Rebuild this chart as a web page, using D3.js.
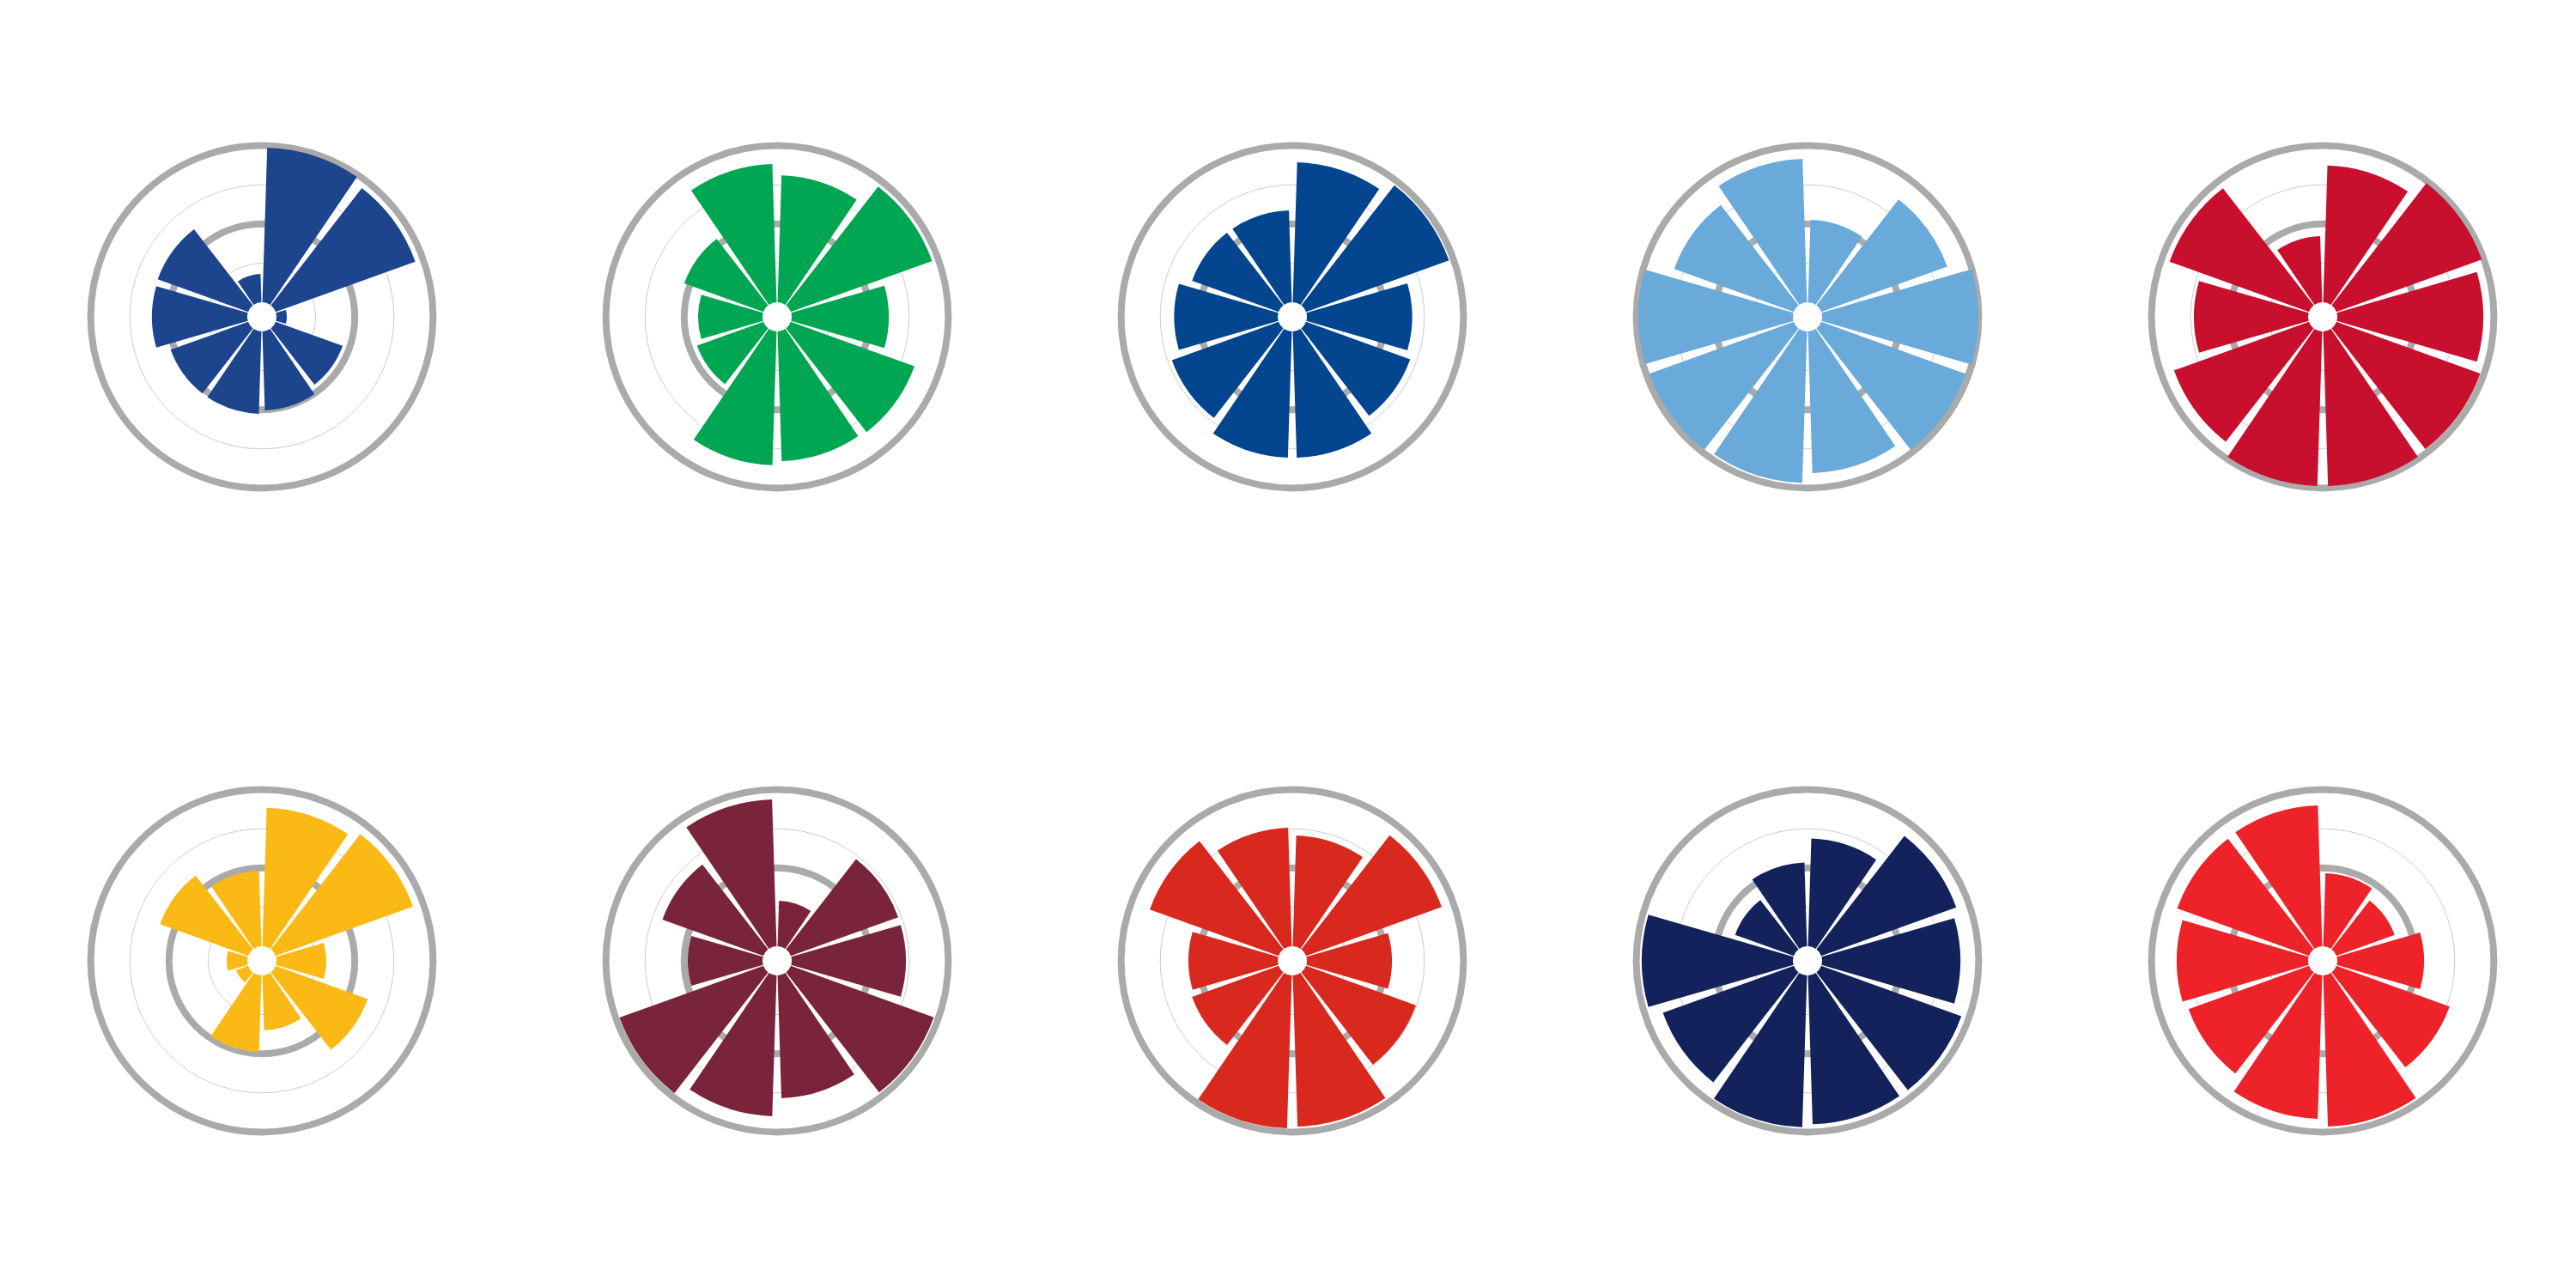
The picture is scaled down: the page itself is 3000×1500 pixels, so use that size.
<!DOCTYPE html>
<html>
<head>
<meta charset="utf-8">
<script src="https://cdn.jsdelivr.net/npm/d3@7"></script>
<style>
  html, body { margin: 0; padding: 0; background: #ffffff; }
  svg { display: block; }
</style>
</head>
<body>
<script>
// ---- data (radial value per wedge, 0–100 scale), wedges clockwise from 12 o'clock ----
const wedgeCategories = ["w1","w2","w3","w4","w5","w6","w7","w8","w9","w10"];
const chartNames = ["c1","c2","c3","c4","c5","c6","c7","c8","c9","c10"];

const values1  = [98.7, 94.8,  6.6, 45.5, 50.4, 52.6, 52.6, 60.9, 61.4, 18.1];
const values2  = [81.1, 95.9, 62.0, 83.9, 82.8, 85.5, 45.0, 41.1, 53.7, 88.3];
const values3  = [89.4, 97.0, 67.2, 70.7, 80.6, 80.6, 72.4, 66.1, 58.7, 58.7];
const values4  = [52.6, 85.5, 99.8, 98.1, 90.5, 96.8, 98.1, 98.7, 81.1, 91.6];
const values5  = [87.4, 98.7, 93.2, 97.6, 98.7, 98.7, 91.6, 72.9, 94.6, 42.2];
const values6  = [88.5, 93.2, 31.8, 62.5, 35.1, 48.8,  8.2, 13.2, 59.8, 48.2];
const values7  = [29.1, 72.9, 72.9, 97.0, 78.4, 89.9, 97.6, 47.7, 68.5, 93.8];
const values8  = [70.7, 92.1, 54.3, 74.6, 96.5, 97.6, 58.7, 57.0, 87.4, 75.7];
const values9  = [68.8, 91.6, 88.3, 95.1, 95.1, 97.0, 88.8, 96.5, 39.8, 53.5];
const values10 = [46.6, 39.5, 55.4, 76.8, 96.5, 91.6, 81.7, 83.9, 89.4, 89.9];

const gridTicks = [25, 50, 75, 100];
const majorTicks = [50, 100];

const chartColors = ["#1d458d","#00a651","#04458f","#6aaadb","#c8102e",
                     "#fbb916","#7a243b","#d9291e","#13225a","#ee2229"];

const allValues = [values1, values2, values3, values4, values5,
                   values6, values7, values8, values9, values10];

// ---- layout ----
const W = 3000, H = 1500;
const cols = 5;
const x0 = 305, dx = 600, y0 = 369, dy = 750;
const innerR = 17, outerR = 199.4;
const pad = 1.8 * Math.PI / 180;

const svg = d3.select("body").append("svg")
  .attr("width", W).attr("height", H)
  .attr("viewBox", `0 0 ${W} ${H}`);

const rScale = d3.scaleLinear().domain([0, 100]).range([innerR, outerR]);
const angle = d3.scaleBand().domain(wedgeCategories).range([0, 2 * Math.PI]).padding(0);

const arc = d3.arc()
  .innerRadius(innerR)
  .outerRadius(d => rScale(d.value))
  .startAngle(d => angle(d.cat) + pad)
  .endAngle(d => angle(d.cat) + angle.bandwidth() - pad);

chartNames.forEach((name, i) => {
  const col = i % cols, row = Math.floor(i / cols);
  const g = svg.append("g")
    .attr("class", "chart " + name)
    .attr("transform", `translate(${x0 + col * dx},${y0 + row * dy})`);

  // grid circles (beneath wedges)
  g.selectAll("circle.grid")
    .data(gridTicks)
    .join("circle")
    .attr("class", "grid")
    .attr("r", d => rScale(d))
    .attr("fill", "none")
    .attr("stroke", d => majorTicks.includes(d) ? "#aaaaaa" : "#cccccc")
    .attr("stroke-width", d => majorTicks.includes(d) ? 8 : 1);

  const data = allValues[i].map((v, k) => ({ cat: wedgeCategories[k], value: v }));
  g.selectAll("path.wedge")
    .data(data)
    .join("path")
    .attr("class", "wedge")
    .attr("d", arc)
    .attr("fill", chartColors[i]);
});
</script>
</body>
</html>
